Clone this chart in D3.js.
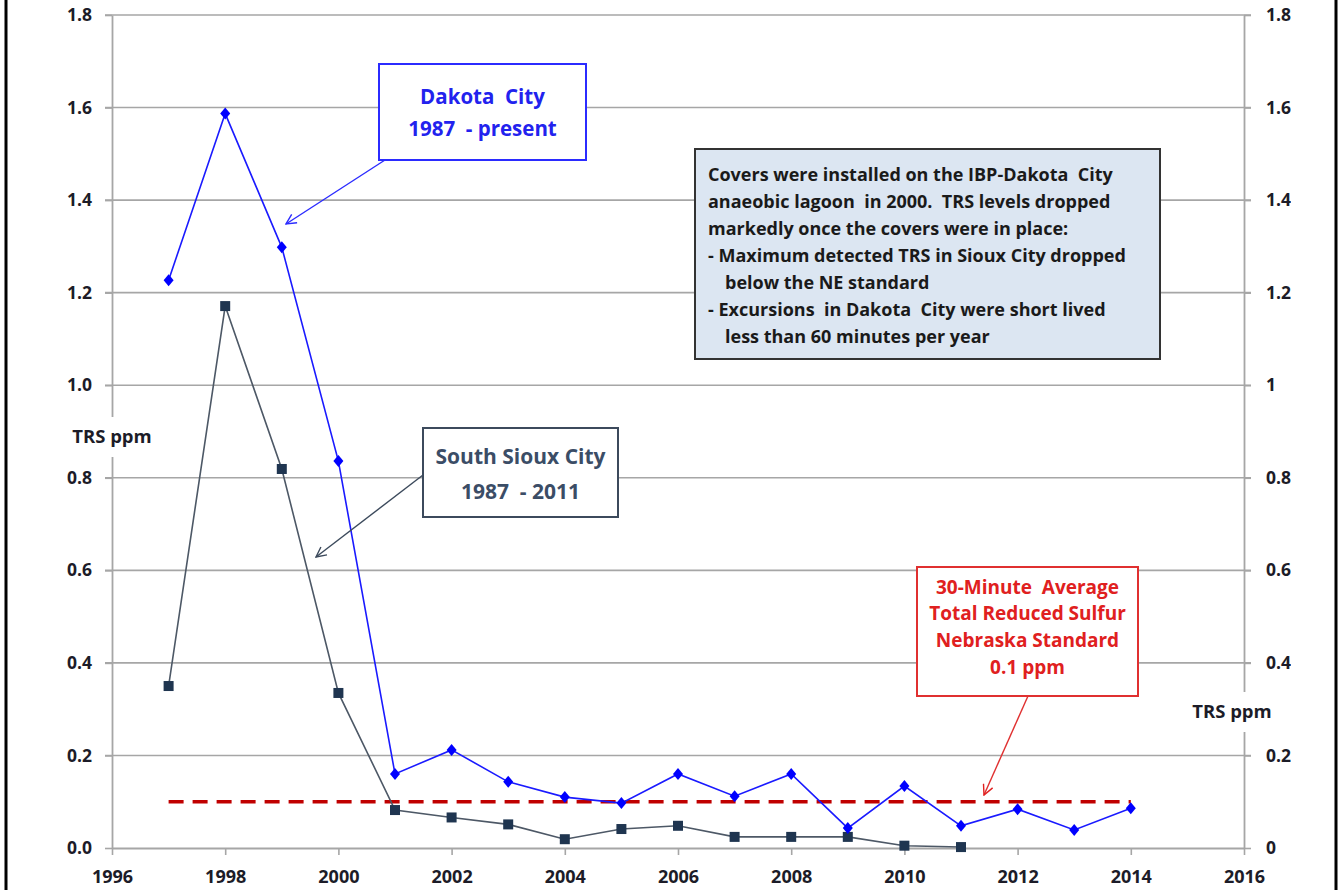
<!DOCTYPE html>
<html>
<head>
<meta charset="utf-8">
<script src="https://cdn.jsdelivr.net/npm/d3@7/dist/d3.min.js"></script>
<style>
  html, body { margin: 0; padding: 0; background: #fff; }
  svg { display: block; }
  text { font-family: "Open Sans", Lato, sans-serif; font-weight: bold; white-space: pre; }
</style>
</head>
<body>
<svg id="chart" width="1341" height="890"></svg>
<script>
// ---- data ----
const years = [1997,1998,1999,2000,2001,2002,2003,2004,2005,2006,2007,2008,2009,2010,2011,2012,2013,2014];
const dakotaCity = [1.227,1.587,1.298,0.836,0.160,0.212,0.143,0.110,0.097,0.160,0.112,0.160,0.043,0.134,0.048,0.084,0.039,0.086];
const southSiouxYears = [1997,1998,1999,2000,2001,2002,2003,2004,2005,2006,2007,2008,2009,2010,2011];
const southSioux = [0.350,1.171,0.819,0.335,0.082,0.066,0.051,0.019,0.041,0.048,0.024,0.024,0.024,0.005,0.002];
const standardYears = [1997, 2014];
const standardValue = 0.1;
const xTicks = [1996,1998,2000,2002,2004,2006,2008,2010,2012,2014,2016];
const yTicks = [0,0.2,0.4,0.6,0.8,1.0,1.2,1.4,1.6,1.8];
const axisTitle = "TRS ppm";

const svg = d3.select("#chart");
const x = d3.scaleLinear().domain([1996, 2016]).range([112, 1244]);
const y = d3.scaleLinear().domain([0, 1.8]).range([848, 15]);

const gridColor = "#a6a6a6";
const textColor = "#1c1c28";
const FONT = '"Open Sans", Lato, sans-serif';

// gridlines
svg.append("g").selectAll("line").data(yTicks.filter(d => d > 0)).join("line")
  .attr("x1", x(1996) - 7).attr("x2", x(2016) + 7)
  .attr("y1", d => y(d)).attr("y2", d => y(d))
  .attr("stroke", gridColor).attr("stroke-width", 1.6);

// left axis
const gL = svg.append("g").attr("transform", `translate(${x(1996)},0)`)
  .call(d3.axisLeft(y).tickValues(yTicks).tickFormat(d3.format(".1f")).tickSizeInner(7).tickSizeOuter(0).tickPadding(13));
// right axis (clipped like the reference)
const defs = svg.append("defs");
defs.append("clipPath").attr("id", "rclip")
  .append("rect").attr("x", 0).attr("y", 0).attr("width", 1291).attr("height", 890);
const gR = svg.append("g").attr("clip-path", "url(#rclip)").append("g")
  .attr("transform", `translate(${x(2016)},0)`)
  .call(d3.axisRight(y).tickValues(yTicks).tickFormat(d => String(+d.toFixed(1))).tickSizeInner(7).tickSizeOuter(0).tickPadding(15));
// bottom axis
const gB = svg.append("g").attr("transform", `translate(0,${y(0)})`)
  .call(d3.axisBottom(x).tickValues(xTicks).tickFormat(d3.format("d")).tickSizeInner(7).tickSizeOuter(0).tickPadding(15));

[gL, gR, gB].forEach(g => {
  g.select(".domain").attr("stroke", gridColor).attr("stroke-width", 1.8);
  g.selectAll(".tick line").attr("stroke", gridColor).attr("stroke-width", 1.6);
  g.selectAll(".tick text").attr("fill", textColor).style("font-size", "17.5px")
    .style("font-family", FONT).style("font-weight", "bold");
});
gB.selectAll(".tick text").style("font-size", "18px");

// axis titles (with white background)
function axisLabel(cx, cy) {
  const g = svg.append("g");
  g.append("rect").attr("x", cx - 44).attr("y", cy - 20).attr("width", 88).attr("height", 40).attr("fill", "#fff");
  g.append("text").attr("x", cx).attr("y", cy).attr("text-anchor", "middle").attr("dy", "0.35em")
    .attr("fill", textColor).style("font-size", "18.5px").text(axisTitle);
}
axisLabel(112, 437);
axisLabel(1232, 712);

// standard line
svg.append("line")
  .attr("x1", x(standardYears[0])).attr("x2", x(standardYears[1]))
  .attr("y1", y(standardValue)).attr("y2", y(standardValue))
  .attr("stroke", "#c00000").attr("stroke-width", 3.5).attr("stroke-dasharray", "15,9");

// South Sioux City series
const ss = southSiouxYears.map((yr, i) => [yr, southSioux[i]]);
svg.append("path").datum(ss)
  .attr("d", d3.line().x(d => x(d[0])).y(d => y(d[1])))
  .attr("fill", "none").attr("stroke", "#4d5866").attr("stroke-width", 1.6);
svg.append("g").selectAll("rect").data(ss).join("rect")
  .attr("x", d => x(d[0]) - 5).attr("y", d => y(d[1]) - 5)
  .attr("width", 10).attr("height", 10).attr("fill", "#1f3550");

// Dakota City series
const dc = years.map((yr, i) => [yr, dakotaCity[i]]);
svg.append("path").datum(dc)
  .attr("d", d3.line().x(d => x(d[0])).y(d => y(d[1])))
  .attr("fill", "none").attr("stroke", "#1a1aff").attr("stroke-width", 1.6);
svg.append("g").selectAll("path").data(dc).join("path")
  .attr("transform", d => `translate(${x(d[0])},${y(d[1])})`)
  .attr("d", "M0,-6 L5,0 L0,6 L-5,0 Z").attr("fill", "#0000ff");

// arrow markers
function arrowMarker(id, color) {
  defs.append("marker").attr("id", id).attr("viewBox", "0 0 12 12").attr("refX", 11).attr("refY", 6)
    .attr("markerWidth", 12).attr("markerHeight", 12).attr("markerUnits", "userSpaceOnUse").attr("orient", "auto")
    .append("path").attr("d", "M1,1 L11,6 L1,11").attr("fill", "none").attr("stroke", color).attr("stroke-width", 1.4);
}
arrowMarker("aBlue", "#2b2bff");
arrowMarker("aSlate", "#3c4a5c");
arrowMarker("aRed", "#e02020");

function callout(o) {
  if (o.from) {
    svg.append("line").attr("x1", o.from[0]).attr("y1", o.from[1]).attr("x2", o.to[0]).attr("y2", o.to[1])
      .attr("stroke", o.stroke).attr("stroke-width", 1.4).attr("marker-end", `url(#${o.marker})`);
  }
  svg.append("rect").attr("x", o.box[0]).attr("y", o.box[1]).attr("width", o.box[2]).attr("height", o.box[3])
    .attr("fill", o.fill).attr("stroke", o.stroke).attr("stroke-width", o.sw || 2);
  const t = svg.append("text").attr("fill", o.color).style("font-size", o.size + "px")
    .attr("text-anchor", o.anchor || "middle");
  o.lines.forEach((ln, i) => {
    t.append("tspan").attr("x", (o.tx || o.box[0] + o.box[2] / 2) + (ln.indent || 0))
      .attr("y", o.ty + i * o.lh).attr("dy", "0.35em").text(ln.t);
  });
}

callout({ box: [379, 64, 207, 96], fill: "#fff", stroke: "#2b2bff", color: "#2222ee", size: 20.5,
  from: [385, 160], to: [286, 224], marker: "aBlue", ty: 97, lh: 32,
  lines: [{t: "Dakota  City"}, {t: "1987  - present"}] });

callout({ box: [423, 428, 195, 89], fill: "#fff", stroke: "#3c4a5c", color: "#3b4d66", size: 21,
  from: [423, 475], to: [316, 557], marker: "aSlate", ty: 457, lh: 35,
  lines: [{t: "South Sioux City"}, {t: "1987  - 2011"}] });

callout({ box: [917, 567, 221, 129], fill: "#fff", stroke: "#e03030", color: "#e02020", size: 19,
  from: [1028, 696], to: [984, 795], marker: "aRed", ty: 587, lh: 26.7,
  lines: [{t: "30-Minute  Average"}, {t: "Total Reduced Sulfur"}, {t: "Nebraska Standard"}, {t: "0.1 ppm"}] });

callout({ box: [695, 149, 465, 210], fill: "#dce6f2", stroke: "#333", color: "#1a1a1a", size: 18, sw: 2,
  ty: 175, lh: 27, anchor: "start", tx: 708,
  lines: [
    {t: "Covers were installed on the IBP-Dakota  City"},
    {t: "anaeobic lagoon  in 2000.  TRS levels dropped"},
    {t: "markedly once the covers were in place:"},
    {t: "- Maximum detected TRS in Sioux City dropped"},
    {t: "below the NE standard", indent: 17},
    {t: "- Excursions  in Dakota  City were short lived"},
    {t: "less than 60 minutes per year", indent: 17}
  ] });

// frame borders
svg.append("line").attr("x1", 6).attr("x2", 6).attr("y1", 0).attr("y2", 890).attr("stroke", "#000").attr("stroke-width", 3);
svg.append("line").attr("x1", 1336).attr("x2", 1336).attr("y1", 0).attr("y2", 890).attr("stroke", "#000").attr("stroke-width", 3);
</script>
</body>
</html>
